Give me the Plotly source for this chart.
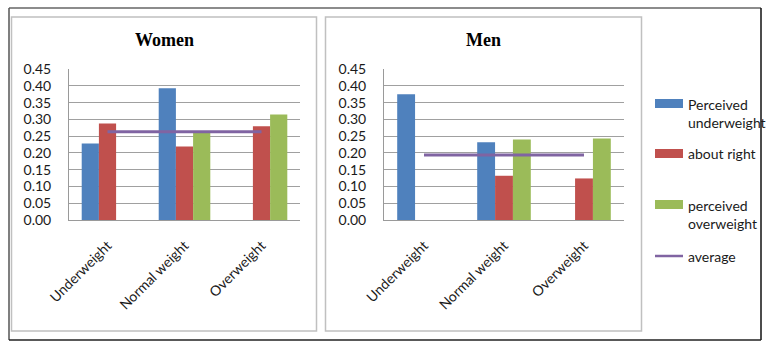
import plotly.graph_objects as go

categories = ["Underweight", "Normal weight", "Overweight"]
series_names = ["Perceived underweight", "about right", "perceived overweight"]
legend_labels = ["Perceived<br>underweight", "about right", "perceived<br>overweight", "average"]

women_under = [0.228, 0.393, 0.0]
women_right = [0.288, 0.219, 0.280]
women_over = [0.0, 0.261, 0.315]
women_avg = [0.263, 0.263, 0.263]

men_under = [0.375, 0.232, 0.0]
men_right = [0.0, 0.132, 0.124]
men_over = [0.0, 0.240, 0.243]
men_avg = [0.194, 0.194, 0.194]

y_ticks = [0.00, 0.05, 0.10, 0.15, 0.20, 0.25, 0.30, 0.35, 0.40, 0.45]

colors = ["#4F81BD", "#C0504D", "#9BBB59"]
avg_color = "#8064A2"

W, H = 769, 349
def px(x):
    return x / W
def py(y):
    return (H - y) / H

fig = go.Figure()

for ax, data, avg in [("", [women_under, women_right, women_over], women_avg),
                      ("2", [men_under, men_right, men_over], men_avg)]:
    for name, vals, c in zip(series_names, data, colors):
        fig.add_trace(go.Bar(x=categories, y=vals, name=name, marker=dict(color=c, line=dict(width=0)),
                             xaxis="x" + ax, yaxis="y" + ax, showlegend=False))
    fig.add_trace(go.Scatter(x=categories, y=avg, mode="lines", name="average",
                             line=dict(color=avg_color, width=3),
                             xaxis="x" + ax, yaxis="y" + ax, showlegend=False))

tickfont = dict(family="Lato", size=14, color="#1a1a1a")
xcommon = dict(showline=True, linecolor="#9a9a9a", linewidth=1, tickangle=-45, tickfont=tickfont,
               showgrid=False, ticks="", ticklabelstandoff=11, automargin=False, fixedrange=True)
ycommon = dict(range=[0, 0.4505], tickvals=y_ticks, tickformat=".2f", tickfont=tickfont,
               showline=True, linecolor="#9a9a9a", linewidth=1, showgrid=True, gridcolor="#a0a0a0",
               gridwidth=1, zeroline=False, ticks="", ticklabelstandoff=14, automargin=False, fixedrange=True)

fig.update_layout(
    width=W, height=H, autosize=False,
    margin=dict(l=0, r=0, t=0, b=0),
    paper_bgcolor="white", plot_bgcolor="white",
    barmode="group", bargap=0.33, bargroupgap=0,
    showlegend=False,
    xaxis=dict(domain=[px(69), px(300)], anchor="y", **xcommon),
    yaxis=dict(domain=[py(220), py(69)], anchor="x", **ycommon),
    xaxis2=dict(domain=[px(384), px(624)], anchor="y2", **xcommon),
    yaxis2=dict(domain=[py(220), py(69)], anchor="x2", **ycommon),
)

shapes = []
# outer frame
shapes.append(dict(type="line", xref="paper", yref="paper", x0=px(9), x1=px(761), y0=py(8), y1=py(8),
                   line=dict(color="#8c8c8c", width=2)))
shapes.append(dict(type="line", xref="paper", yref="paper", x0=px(9), x1=px(9), y0=py(8), y1=py(340),
                   line=dict(color="#555555", width=1.5)))
shapes.append(dict(type="line", xref="paper", yref="paper", x0=px(761), x1=px(761), y0=py(8), y1=py(340),
                   line=dict(color="#111111", width=1.5)))
shapes.append(dict(type="line", xref="paper", yref="paper", x0=px(9), x1=px(761), y0=py(340), y1=py(340),
                   line=dict(color="#222222", width=1.5)))
# panels
for x0, x1 in [(11.5, 316.5), (325.5, 641.5)]:
    shapes.append(dict(type="rect", xref="paper", yref="paper", x0=px(x0), x1=px(x1), y0=py(17), y1=py(331),
                       line=dict(color="#c0c0c0", width=1.5), fillcolor="rgba(0,0,0,0)"))
# legend swatches
for c, yc in zip(colors, [103.5, 153.5, 204.5]):
    shapes.append(dict(type="rect", xref="paper", yref="paper", x0=px(655), x1=px(683),
                       y0=py(yc + 4.5), y1=py(yc - 4.5), line=dict(width=0), fillcolor=c))
shapes.append(dict(type="line", xref="paper", yref="paper", x0=px(655), x1=px(683), y0=py(256), y1=py(256),
                   line=dict(color=avg_color, width=2.5)))
fig.update_layout(shapes=shapes)

annotations = [
    dict(text="<b>Women</b>", x=px(164), y=py(40), xref="paper", yref="paper", showarrow=False,
         font=dict(family="Liberation Serif", size=18, color="#000000"), xanchor="center", yanchor="middle"),
    dict(text="<b>Men</b>", x=px(483), y=py(40), xref="paper", yref="paper", showarrow=False,
         font=dict(family="Liberation Serif", size=18, color="#000000"), xanchor="center", yanchor="middle"),
]
legfont = dict(family="Lato", size=14, color="#1a1a1a")
for lab, yc in zip(legend_labels, [113, 153, 214, 256]):
    annotations.append(dict(text=lab, x=px(686), y=py(yc), xref="paper", yref="paper", showarrow=False,
                            font=legfont, xanchor="left", yanchor="middle", align="left"))
fig.update_layout(annotations=annotations)

fig.write_html("out.html", config={"displayModeBar": False},
               post_script="document.body.style.margin='0';document.body.style.overflow='hidden';")
